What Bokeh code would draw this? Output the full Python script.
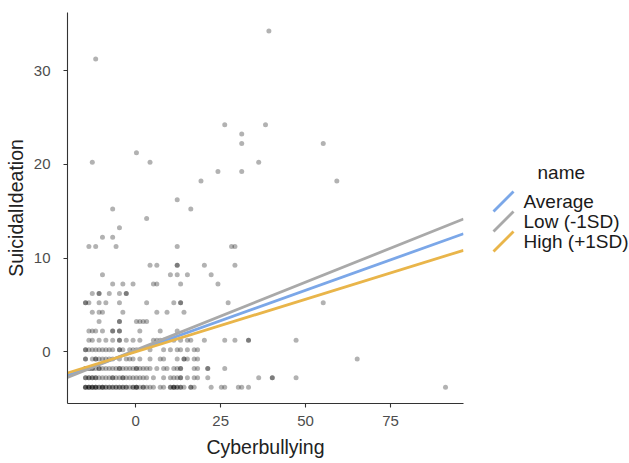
from bokeh.plotting import figure
from bokeh.models import Range1d, FixedTicker
from bokeh.layouts import row
from bokeh.embed import file_html
from bokeh.resources import INLINE
from bokeh.core.properties import value

# ---- data ----
sid_levels = [-3.76, -2.76, -1.76, -0.76, 0.24, 1.24, 2.24, 3.24, 4.24, 5.24, 6.24,
              7.24, 8.24, 9.24, 11.24, 12.24, 13.24, 14.24, 15.24, 16.24, 18.24,
              19.24, 20.24, 21.24, 22.24, 23.24, 24.24, 31.24, 34.24]

cb_m3 = [-14.8, -14.8, -14.8, -13.8, -13.8, -13.8, -12.8, -12.8, -12.8, -11.8, -11.8, -11.8,
         -10.8, -10.8, -9.8, -9.8, -9.8, -8.8, -8.8, -7.8, -7.8, -6.8, -6.8, -5.8, -5.8,
         -4.8, -4.8, -3.8, -3.8, -2.8, -2.8, -1.8, -0.8, -0.8, 0.2, 0.2, 0.2, 1.2, 2.2, 2.2,
         3.2, 4.2, 5.2, 7.2, 8.2, 10.2, 10.2, 11.2, 11.2, 11.2, 12.2, 12.2, 13.2, 13.2, 14.2,
         16.2, 16.2, 17.2, 22.2, 25.2, 26.2, 30.2, 31.2, 33.2, 91.2]
cb_m2 = [-14.8, -14.8, -13.8, -13.8, -12.8, -12.8, -11.8, -11.8, -10.8, -9.8, -8.8, -7.8,
         -6.8, -6.8, -5.8, -4.8, -3.8, -3.8, -2.8, -1.8, -0.8, 0.2, 1.2, 2.2, 3.2, 5.2, 8.2,
         10.2, 11.2, 12.2, 13.2, 13.2, 15.2, 17.2, 18.2, 21.2, 36.2, 40.2, 40.2, 47.2]
cb_m1 = [-14.8, -14.8, -13.8, -13.8, -12.8, -12.8, -11.8, -10.8, -10.8, -9.8, -8.8, -7.8,
         -6.8, -5.8, -4.8, -4.8, -3.8, -2.8, -1.8, -0.8, 0.2, 0.2, 1.2, 2.2, 3.2, 4.2, 6.2,
         8.2, 9.2, 11.2, 12.2, 13.2, 13.2, 17.2, 18.2, 21.2, 21.2, 26.2]
cb_m0 = [-14.8, -14.8, -12.8, -11.8, -11.8, -10.8, -9.8, -8.8, -7.8, -6.8, -4.8, -2.8,
         -1.8, -0.8, 1.2, 4.2, 7.2, 8.2, 12.2, 14.2, 14.2, 15.2, 17.2, 18.2, 65.2]
cb_p0 = [-14.8, -14.8, -13.8, -12.8, -11.8, -10.8, -9.8, -8.8, -7.8, -6.8, -4.8, -4.8,
         -3.8, -1.8, -0.8, 0.2, 4.2, 8.2, 10.2, 12.2, 13.2, 15.2, 17.2, 18.2]
cb_p1 = [-13.8, -12.8, -10.8, -8.8, -6.8, -4.8, -4.8, -2.8, -0.8, 1.2, 5.2, 6.2, 7.2, 8.2,
         11.2, 13.2, 15.2, 16.2, 20.2, 26.2, 29.2, 33.2, 33.2, 47.2]
cb_p2 = [-13.8, -12.8, -11.8, -9.8, -6.8, -6.8, -4.8, -4.8, 1.2, 7.2, 12.2]
cb_p3 = [-10.8, -4.8, -4.8, 0.2, 1.2, 2.2, 3.2]
cb_p4 = [-12.8, -10.8, -9.8, -3.8, 6.2, 9.2, 14.2]
cb_p5 = [-14.8, -14.8, -13.8, -10.8, -8.8, -4.8, 3.2, 11.2, 13.2, 13.2, 27.2, 55.2]
cb_p6 = [-12.8, -10.8, -10.8, -7.8, -4.8, -2.8, -2.8]
cb_p7 = [-6.8, -3.8, -0.8, 5.2, 6.2, 13.2, 24.2]
cb_p8 = [-9.8, 10.2, 12.2, 15.2, 22.2]
cb_p9 = [4.2, 6.2, 12.2, 12.2, 20.2, 29.2]
cb_p11 = [-13.8, -11.8, -5.8, 12.2, 28.2, 29.2]
cb_p12 = [-9.8, -6.8]
cb_p13 = [-4.8]
cb_p14 = [3.2]
cb_p15 = [-6.8, 16.2]
cb_p16 = [12.2]
cb_p18 = [19.2, 59.2]
cb_p19 = [24.2, 31.2]
cb_p20 = [-12.8, 4.2, 36.2]
cb_p21 = [0.2]
cb_p22 = [31.2, 55.2]
cb_p23 = [31.2]
cb_p24 = [26.2, 38.2]
cb_p31 = [-11.8]
cb_p34 = [39.2]

cb_rows = [cb_m3, cb_m2, cb_m1, cb_m0, cb_p0, cb_p1, cb_p2, cb_p3, cb_p4, cb_p5, cb_p6,
           cb_p7, cb_p8, cb_p9, cb_p11, cb_p12, cb_p13, cb_p14, cb_p15, cb_p16, cb_p18,
           cb_p19, cb_p20, cb_p21, cb_p22, cb_p23, cb_p24, cb_p31, cb_p34]

line_names = ["Average", "Low (-1SD)", "High (+1SD)"]
line_colors = ["#7ba7e8", "#a9a9a9", "#e9b54a"]
line_intercepts = [0.09, 0.20, 0.01]
line_slopes = [0.1297, 0.1448, 0.1122]

x_ticks = [0, 25, 50, 75]
y_ticks = [0, 10, 20, 30]

xs, ys = [], []
for lvl, vals in zip(sid_levels, cb_rows):
    for v in vals:
        xs.append(v)
        ys.append(lvl)

X_LO, X_HI = -20.1, 96.5
Y_LO, Y_HI = -5.5, 36.2

FONT = "Liberation Sans"
H = 461
FRAME_TOP, FRAME_BOTTOM = 12, 403

p = figure(width=470, height=H, output_backend="svg", toolbar_location=None,
           x_range=Range1d(X_LO, X_HI), y_range=Range1d(Y_LO, Y_HI),
           min_border_left=67, min_border_right=7, min_border_top=FRAME_TOP,
           min_border_bottom=H - FRAME_BOTTOM)
p.outline_line_color = None
p.grid.visible = False
p.background_fill_color = "white"
p.border_fill_color = "white"

p.scatter(xs, ys, size=5, fill_color="black", fill_alpha=0.3, line_color=None)

for i in range(3):
    p.line([X_LO, X_HI],
           [line_intercepts[i] + line_slopes[i] * X_LO, line_intercepts[i] + line_slopes[i] * X_HI],
           line_color=line_colors[i], line_width=2.8)

for ax in (p.xaxis[0], p.yaxis[0]):
    ax.axis_line_color = "#333333"
    ax.axis_line_width = 1.1
    ax.major_tick_line_color = "#333333"
    ax.major_tick_line_width = 1.1
    ax.major_tick_in = 0
    ax.major_tick_out = 4
    ax.minor_tick_line_color = None
    ax.major_label_text_font = FONT
    ax.major_label_text_font_size = "15px"
    ax.major_label_text_color = "#4d4d4d"
    ax.axis_label_text_font = FONT
    ax.axis_label_text_font_style = "normal"
    ax.axis_label_text_font_size = "19.5px"
    ax.axis_label_text_color = "#222222"

p.xaxis.ticker = FixedTicker(ticks=x_ticks)
p.yaxis.ticker = FixedTicker(ticks=y_ticks)
p.xaxis.axis_label = "Cyberbullying"
p.yaxis.axis_label = "SuicidalIdeation"
p.xaxis.major_label_standoff = 8
p.xaxis.axis_label_standoff = 7
p.yaxis.major_label_standoff = 13
p.yaxis.axis_label_standoff = 4

# ---- legend panel (ggplot-style, diagonal keys); coordinates are page pixels ----
leg = figure(width=159, height=H, output_backend="svg", toolbar_location=None,
             x_range=Range1d(470, 629), y_range=Range1d(FRAME_BOTTOM, FRAME_TOP),
             x_axis_location=None, y_axis_location=None, title=None,
             min_border=0, min_border_left=0, min_border_right=0,
             min_border_top=FRAME_TOP, min_border_bottom=H - FRAME_BOTTOM)
leg.grid.visible = False
leg.outline_line_color = None
leg.background_fill_color = "white"
leg.border_fill_color = "white"

leg.text([537], [172], text=["name"], text_font=value(FONT), text_font_size="19px",
         text_color="#1a1a1a", text_baseline="middle", text_align="left")
row_y = [201, 221, 241]
for i in range(3):
    leg.segment(x0=[493], y0=[row_y[i] + 10], x1=[513], y1=[row_y[i] - 10],
                line_color=line_colors[i], line_width=2.8)
    leg.text([523], [row_y[i]], text=[line_names[i]], text_font=value(FONT),
             text_font_size="19px", text_color="#1a1a1a", text_baseline="middle",
             text_align="left")

layout = row(p, leg)
open("out.html", "w").write(file_html(layout, INLINE))
